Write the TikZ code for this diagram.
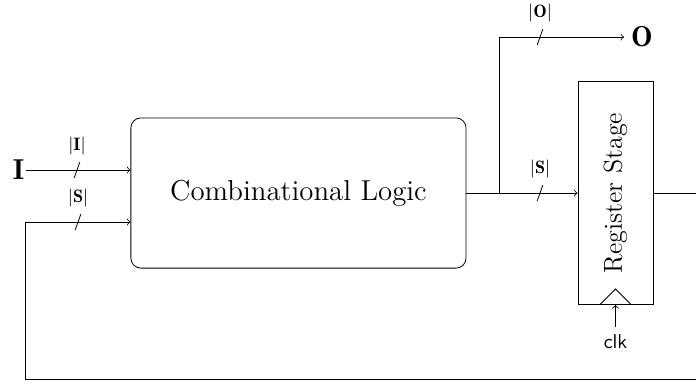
\documentclass[tikz,border=0pt]{standalone}
\usepackage{fontspec}
\usetikzlibrary{positioning}

\tikzset{
	block/.style={draw, minimum width=#1},
	buswidth/.style={font=\small},
}

\begin{document}
\begin{tikzpicture}

	\useasboundingbox (0, 0) rectangle (12.231, 6.731);

	\node (comb) [block=5.89cm, minimum height=2.64cm, rounded corners=5pt, font=\Large] at (5.245, 3.339) {Combinational Logic};
	\node (reg) [block=1.32cm, minimum height=3.92cm] at (10.816, 3.339) {};
	\node (regtext) [rotate=90, font=\fontsize{13}{15}\selectfont] at (reg) {Register Stage};

	\node (I) [inner sep=0.5pt, font=\Large] at (0.325, 3.743) {$\mathbf{I}$};
	\node (O) [font=\Large] at (11.282, 6.080) {$\mathbf{O}$};
	\node (clk) [below=0.39cm of reg.south, font=\sffamily] {clk};

	\coordinate (br) at (8.769, 3.339);
	\coordinate (fbR) at (12.5, 0.070);
	\coordinate (fbL) at (0.439, 0.070);
	\coordinate (sin) at ([yshift=-0.51cm]comb.west);

	\draw [->] (I) -- (I -| comb.west);
	\draw [->] (comb.east) -- (reg.west);
	\draw [->] (br) |- (O);
	\draw [->] (reg.east) -| (fbR) -- (fbL) |- (sin);
	\draw [->] (clk) -- (reg.south);

	% clock input
	\draw ([xshift=-0.28cm]reg.south) -- ++(0.28, 0.28) -- ++(0.28, -0.28);

	\coordinate (wI) at (1.353, 3.743);
	\coordinate (wS) at (1.371, 2.829);
	\coordinate (wO) at (9.490, 6.080);
	\coordinate (wR) at (9.490, 3.339);

	\foreach \c/\t in {wI/I, wS/S, wO/O, wR/S} {
		\draw ([xshift=-0.05cm, yshift=-0.14cm]\c) -- ++(0.1, 0.28);
		\node (l\c) [buswidth] at ([yshift=0.42cm]\c) {$|\mathbf{\t}|$};
	}

\end{tikzpicture}
\end{document}
